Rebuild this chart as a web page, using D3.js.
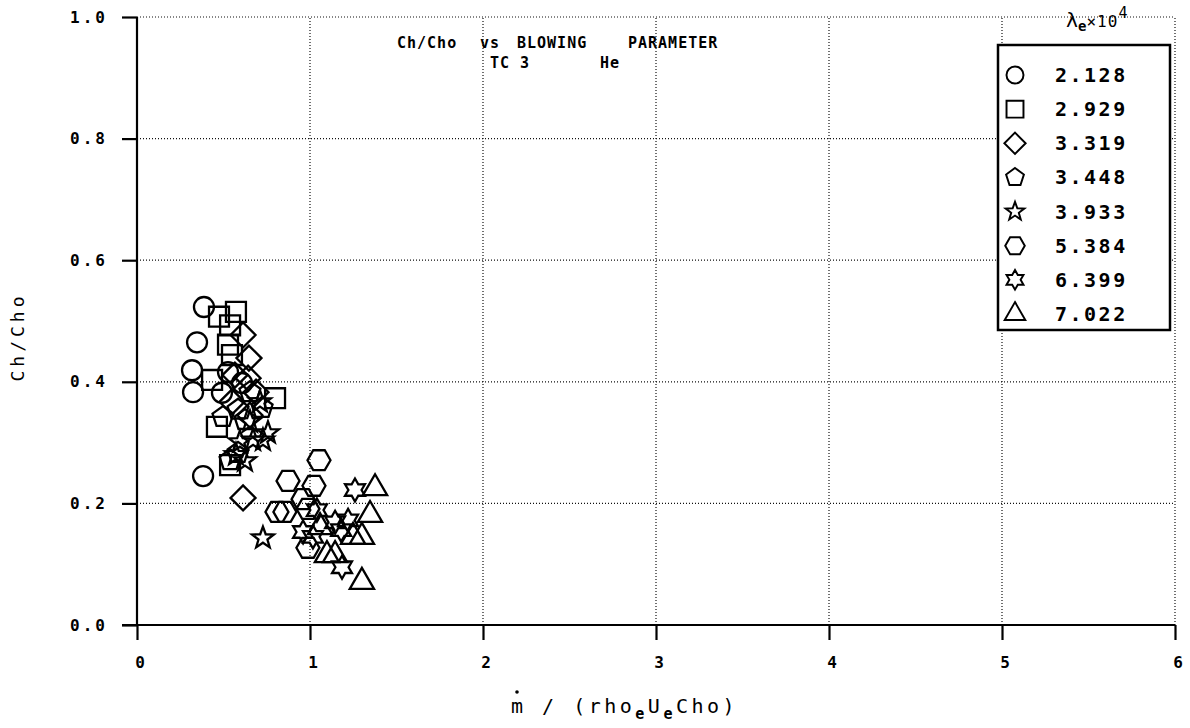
<!DOCTYPE html>
<html>
<head>
<meta charset="utf-8">
<script src="https://cdn.jsdelivr.net/npm/d3@7"></script>
<style>
  body { margin: 0; background: #fff; }
  svg { display: block; }
  text { font-family: "DejaVu Sans Mono", monospace; fill: #000; }
  .grid line { stroke: #111; stroke-width: 1.2; stroke-dasharray: 1,2; }
  .axis path, .axis line { stroke: #000; stroke-width: 2.2; }
  .axis text { font-size: 16px; font-weight: bold; letter-spacing: 3px; }
  .mark { fill: none; stroke: #000; stroke-width: 2.3; }
</style>
</head>
<body>
<svg id="chart" width="1190" height="728"></svg>
<script>
//Ch/Cho vs blowing parameter, TC 3, He

//series labels (lambda_e x 10^4) and marker shapes
var seriesLabels = ["2.128","2.929","3.319","3.448","3.933","5.384","6.399","7.022"];
var seriesShapes = ["circle","square","diamond","pentagon","star5","hexagon","star6","triangle"];

//values
var circleX   = [0.387, 0.347, 0.318, 0.324, 0.491, 0.526, 0.382, 0.607];
var circleY   = [0.523, 0.465, 0.419, 0.383, 0.382, 0.416, 0.245, 0.398];
var squareX   = [0.572, 0.474, 0.538, 0.526, 0.549, 0.434, 0.798, 0.462, 0.538];
var squareY   = [0.515, 0.507, 0.493, 0.461, 0.444, 0.403, 0.373, 0.326, 0.263];
var diamondX  = [0.613, 0.647, 0.642, 0.549, 0.688, 0.613, 0.566, 0.653];
var diamondY  = [0.477, 0.439, 0.406, 0.367, 0.383, 0.209, 0.411, 0.345];
var pentagonX = [0.653, 0.497, 0.584, 0.538, 0.624, 0.584, 0.723];
var pentagonY = [0.383, 0.342, 0.354, 0.271, 0.337, 0.283, 0.357];
var star5X    = [0.711, 0.595, 0.728, 0.757, 0.671, 0.624, 0.728, 0.572, 0.653];
var star5Y    = [0.367, 0.301, 0.304, 0.316, 0.304, 0.270, 0.143, 0.280, 0.334];
var hexagonX  = [1.052, 0.873, 1.023, 0.960, 0.809, 0.855, 0.988, 0.988];
var hexagonY  = [0.271, 0.237, 0.229, 0.207, 0.186, 0.186, 0.191, 0.127];
var star6X    = [1.040, 0.960, 1.017, 1.260, 1.145, 1.220, 1.180, 1.185];
var star6Y    = [0.189, 0.153, 0.145, 0.222, 0.169, 0.172, 0.156, 0.095];
var triangleX = [1.058, 1.376, 1.347, 1.249, 1.300, 1.098, 1.145, 1.300];
var triangleY = [0.161, 0.225, 0.181, 0.145, 0.145, 0.115, 0.115, 0.071];

var xTicks = [0, 1, 2, 3, 4, 5, 6];
var yTicks = [0, 0.2, 0.4, 0.6, 0.8, 1.0];

var allX = [circleX, squareX, diamondX, pentagonX, star5X, hexagonX, star6X, triangleX];
var allY = [circleY, squareY, diamondY, pentagonY, star5Y, hexagonY, star6Y, triangleY];
var series = seriesLabels.map((label, i) => ({
  label: label,
  shape: seriesShapes[i],
  points: allX[i].map((x, j) => [x, allY[i][j]])
}));

var svg = d3.select("#chart");

var xScale = d3.scaleLinear().domain([0, 6]).range([137, 1175]);
var yScale = d3.scaleLinear().domain([0, 1]).range([625, 17]);

//polygon / star path around 0,0
function starPath(n, ro, ri, rot) {
  let pts = [];
  let k = ri ? 2 * n : n;
  for (let i = 0; i < k; i++) {
    let r = (ri && i % 2) ? ri : ro;
    let a = rot + i * Math.PI * 2 / k;
    pts.push([r * Math.cos(a), r * Math.sin(a)]);
  }
  return "M" + pts.map(p => p[0].toFixed(2) + "," + p[1].toFixed(2)).join("L") + "Z";
}

var up = -Math.PI / 2;
function shapePath(shape) {
  switch (shape) {
    case "circle":   return d3.symbol(d3.symbolCircle, Math.PI * 100)();
    case "square":   return starPath(4, 14.1, 0, Math.PI / 4);
    case "diamond":  return starPath(4, 12.5, 0, 0);
    case "pentagon": return starPath(5, 11, 0, up);
    case "star5":    return starPath(5, 11.5, 4.7, up);
    case "hexagon":  return starPath(6, 11.5, 0, 0);
    case "star6":    return starPath(6, 11.5, 6.6, up);
    case "triangle": return starPath(3, 14, 0, up);
  }
}

//grid
var grid = svg.append("g").classed("grid", true);
grid.selectAll(".gx").data(xTicks.slice(1)).enter().append("line")
  .attr("x1", d => xScale(d)).attr("x2", d => xScale(d))
  .attr("y1", yScale(0)).attr("y2", yScale(1));
grid.selectAll(".gy").data(yTicks.slice(1)).enter().append("line")
  .attr("x1", xScale(0)).attr("x2", xScale(6))
  .attr("y1", d => yScale(d)).attr("y2", d => yScale(d));

//axes
var xAxis = d3.axisBottom(xScale).tickValues(xTicks).tickSize(15).tickPadding(17)
  .tickFormat(d3.format("d"));
svg.append("g")
  .classed("axis", true)
  .attr("transform", "translate(0," + yScale(0) + ")")
  .call(xAxis)
  .call(g => g.select(".domain").attr("d", "M" + (xScale(0) - 15) + ",0H" + xScale(6)))
  .selectAll("text").attr("dx", 4);

var yAxis = d3.axisLeft(yScale).tickValues(yTicks).tickSize(15).tickPadding(14)
  .tickFormat(d3.format(".1f"));
svg.append("g")
  .classed("axis", true)
  .attr("transform", "translate(" + xScale(0) + ",0)")
  .call(yAxis)
  .call(g => g.select(".domain").attr("d", "M0," + yScale(1) + "V" + yScale(0)));

//points
var groups = svg.append("g").selectAll("g.series").data(series).enter().append("g")
  .classed("series", true);
groups.each(function(s) {
  d3.select(this).selectAll("path").data(s.points).enter().append("path")
    .classed("mark", true)
    .attr("transform", d => "translate(" + xScale(d[0]) + "," + yScale(d[1]) + ")")
    .attr("d", shapePath(s.shape));
});

//titles
var t1 = [["Ch/Cho", 397], ["vs", 480], ["BLOWING", 517], ["PARAMETER", 628]];
svg.selectAll("text.t1").data(t1).enter().append("text")
  .attr("x", d => d[1]).attr("y", 48)
  .style("font-size", "15px").style("font-weight", "bold").style("letter-spacing", "1px")
  .text(d => d[0]);
svg.append("text").attr("x", 490).attr("y", 68)
  .style("font-size", "15px").style("font-weight", "bold").style("letter-spacing", "1px").text("TC 3");
svg.append("text").attr("x", 600).attr("y", 68)
  .style("font-size", "15px").style("font-weight", "bold").style("letter-spacing", "1px").text("He");

//y title
svg.append("text")
  .attr("transform", "translate(24,337) rotate(-90)")
  .attr("text-anchor", "middle")
  .style("font-size", "18px")
  .style("letter-spacing", "4px")
  .text("Ch/Cho");

//x title
var xt = svg.append("text").attr("x", 511).attr("y", 713)
  .style("font-size", "20px").style("letter-spacing", "3.5px");
xt.append("tspan").text("m / (rho");
xt.append("tspan").attr("dy", 6).style("font-size", "15px").style("font-weight", "bold").text("e");
xt.append("tspan").attr("dy", -6).text("U");
xt.append("tspan").attr("dy", 6).style("font-size", "15px").style("font-weight", "bold").text("e");
xt.append("tspan").attr("dy", -6).text("Cho)");
svg.append("circle").attr("cx", 517).attr("cy", 692).attr("r", 1.8).attr("fill", "#000");

//legend
var legend = svg.append("g");
legend.append("rect")
  .attr("x", 998).attr("y", 45).attr("width", 172).attr("height", 285)
  .attr("fill", "#fff").attr("stroke", "#000").attr("stroke-width", 2.5);
var rowY = d3.scalePoint().domain(seriesLabels).range([75, 314]);
var rows = legend.selectAll("g.row").data(series).enter().append("g")
  .attr("transform", d => "translate(0," + rowY(d.label) + ")");
rows.append("path").classed("mark", true)
  .attr("transform", "translate(1015,0) scale(0.85)")
  .attr("d", d => shapePath(d.shape));
rows.append("text").attr("x", 1055).attr("y", 7)
  .style("font-size", "20px").style("font-weight", "bold").style("letter-spacing", "2.5px")
  .text(d => d.label);

var lt = legend.append("text").attr("x", 1066).attr("y", 27).style("font-size", "20px");
lt.append("tspan").text("λ");
lt.append("tspan").attr("dy", 4).style("font-size", "14px").style("font-weight", "bold").text("e");
lt.append("tspan").attr("dy", -4).style("font-size", "16px").style("letter-spacing", "1px").text("×10");
lt.append("tspan").attr("dy", -9).style("font-size", "15px").text("4");
</script>
</body>
</html>
